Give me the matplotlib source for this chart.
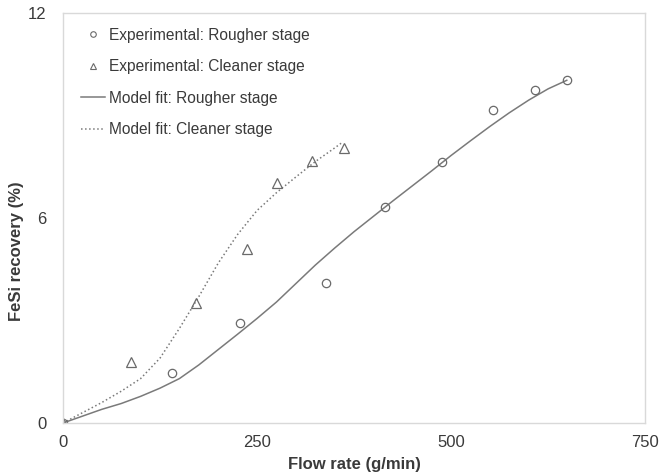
import matplotlib.pyplot as plt
from matplotlib.lines import Line2D

plt.rcParams['font.family'] = ['Liberation Sans', 'DejaVu Sans']

# Experimental recovery points
rougher_flow = [0, 140, 228, 339, 415, 488, 554, 608, 649]
rougher_rec = [0, 1.47, 2.93, 4.11, 6.31, 7.63, 9.15, 9.74, 10.03]

cleaner_flow = [0, 88, 171, 237, 276, 321, 362]
cleaner_rec = [0, 1.79, 3.52, 5.1, 7.01, 7.66, 8.04]

# Model fit curves
rougher_fit_flow = [0, 25, 50, 75, 100, 125, 150, 175, 200, 225, 250, 275, 300,
                    325, 350, 375, 400, 425, 450, 475, 500, 525, 550, 575, 600,
                    625, 649]
rougher_fit_rec = [0, 0.2, 0.4, 0.57, 0.78, 1.02, 1.3, 1.7, 2.15, 2.6, 3.06, 3.54,
                   4.08, 4.62, 5.12, 5.6, 6.05, 6.5, 6.94, 7.38, 7.83, 8.26, 8.68,
                   9.08, 9.45, 9.78, 10.03]

cleaner_fit_flow = [0, 25, 50, 75, 100, 125, 150, 175, 200, 225, 250, 275, 300,
                    325, 350, 359]
cleaner_fit_rec = [0, 0.3, 0.6, 0.93, 1.3, 1.9, 2.77, 3.7, 4.68, 5.52, 6.22, 6.74,
                   7.2, 7.65, 8.05, 8.2]

x_ticks = [0, 250, 500, 750]
y_ticks = [0, 6, 12]

mark_col = '#6a6a6a'
line_col = '#7a7a7a'
text_col = '#3a3a3a'

fig = plt.figure(figsize=(6.59, 4.74), dpi=100)
ax = fig.add_axes([0.0956, 0.1076, 0.8834, 0.865])

ax.plot(rougher_fit_flow, rougher_fit_rec, '-', color=line_col, lw=1.1)
ax.plot(cleaner_fit_flow, cleaner_fit_rec, ':', color=line_col, lw=1.1)
ax.plot(rougher_flow, rougher_rec, 'o', ms=6, mfc='none', mec=mark_col, mew=0.9)
ax.plot(cleaner_flow, cleaner_rec, '^', ms=6.5, mfc='none', mec=mark_col, mew=0.9)

ax.set_xlim(0, 750)
ax.set_ylim(0, 12)
ax.set_xticks(x_ticks)
ax.set_yticks(y_ticks)
ax.tick_params(length=0, labelsize=12, colors=text_col)
ax.tick_params(axis='x', pad=9)
ax.tick_params(axis='y', pad=12)
for s in ax.spines.values():
    s.set_color('#d9d9d9')
    s.set_linewidth(1.0)

ax.set_xlabel('Flow rate (g/min)', fontsize=12, fontweight='bold', color=text_col, labelpad=5)
ax.set_ylabel('FeSi recovery (%)', fontsize=12, fontweight='bold', color=text_col)
ax.yaxis.set_label_coords(-0.067, 0.42)

handles = [
    Line2D([], [], ls='none', marker='o', ms=4, mfc='none', mec=mark_col, mew=0.8),
    Line2D([], [], ls='none', marker='^', ms=4.5, mfc='none', mec=mark_col, mew=0.8),
    Line2D([], [], ls='-', color=line_col, lw=1.1),
    Line2D([], [], ls=':', color=line_col, lw=1.1),
]
labels = ['Experimental: Rougher stage', 'Experimental: Cleaner stage',
          'Model fit: Rougher stage', 'Model fit: Cleaner stage']
leg = ax.legend(handles, labels, loc='upper left', bbox_to_anchor=(0.031, 0.964),
                frameon=False, fontsize=11.2, handlelength=1.57, handletextpad=0.25,
                labelspacing=1.06, borderpad=0, borderaxespad=0)
for t in leg.get_texts():
    t.set_color(text_col)

fig.savefig('out.png', dpi=100, facecolor='white')
